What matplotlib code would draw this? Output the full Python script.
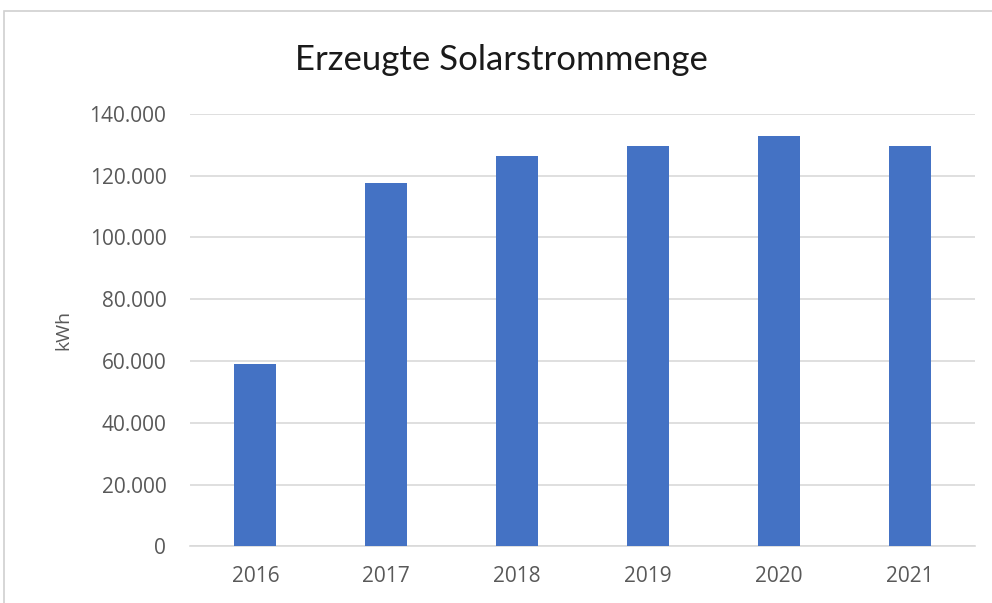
import matplotlib.pyplot as plt
from matplotlib.patches import Rectangle
from matplotlib.ticker import FuncFormatter

years = ["2016", "2017", "2018", "2019", "2020", "2021"]
kwh = [58900, 117500, 126300, 129500, 132800, 129500]
yticks = [0, 20000, 40000, 60000, 80000, 100000, 120000, 140000]

fig = plt.figure(figsize=(9.92, 6.03), dpi=100)
ax = fig.add_axes([0.1915, 0.0937, 0.7915, 0.7177])

ax.bar(years, kwh, width=0.32, color="#4472C4", zorder=3)

ax.set_ylim(0, 140000)
ax.set_xlim(-0.5, len(years) - 0.5)
ax.set_yticks(yticks)
ax.yaxis.set_major_formatter(FuncFormatter(lambda v, p: f"{int(v):,}".replace(",", ".")))
ax.grid(axis="y", color="#D9D9D9", linewidth=1.2, zorder=0)
for s in ["top", "right", "left"]:
    ax.spines[s].set_visible(False)
ax.spines["bottom"].set_color("#D9D9D9")
ax.spines["bottom"].set_linewidth(1.2)
ax.tick_params(length=0, colors="#595959", labelsize=15)
ax.tick_params(axis="y", pad=17)
ax.tick_params(axis="x", pad=14)
for lab in ax.get_xticklabels() + ax.get_yticklabels():
    lab.set_fontfamily("Open Sans")

ax.set_ylabel("kWh", color="#595959", fontsize=14, fontfamily="Open Sans", labelpad=12)

fig.text(0.505, 0.9, "Erzeugte Solarstrommenge", ha="center", va="center",
         fontsize=25, fontfamily="Lato", color="#1a1a1a")

# light frame around the chart
fig.patches.append(Rectangle((4 / 992, -0.05), 1.1, (603 - 11) / 603 + 0.05,
                             transform=fig.transFigure, fill=False,
                             edgecolor="#D0D0D0", linewidth=1.2))

fig.savefig("out.png", dpi=100)
